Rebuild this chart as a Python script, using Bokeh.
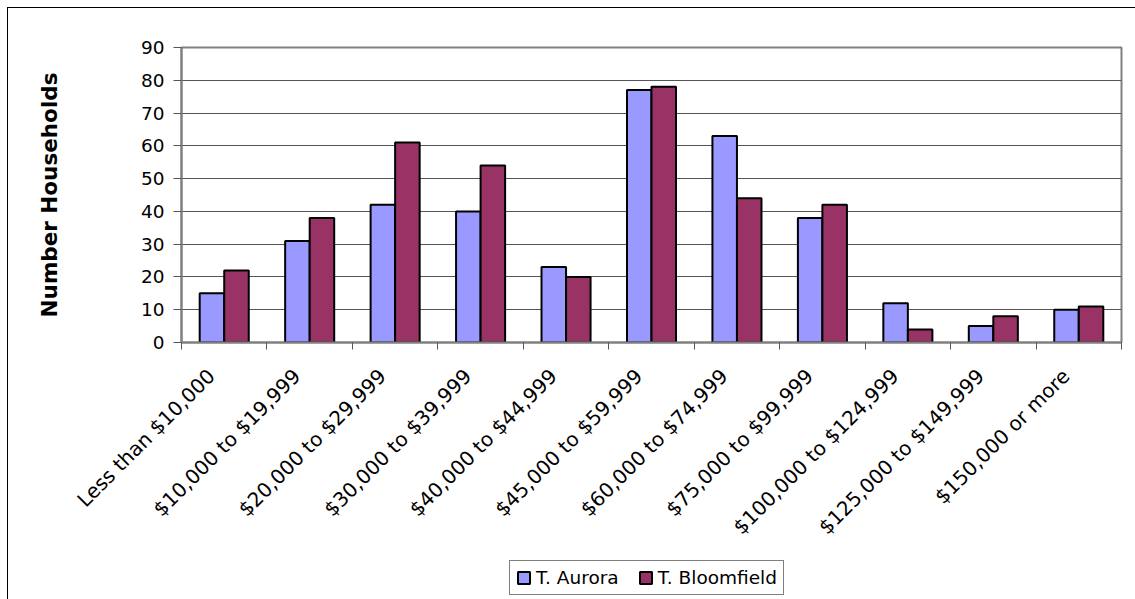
import math

from bokeh.embed import file_html
from bokeh.layouts import column
from bokeh.models import (ColumnDataSource, FixedTicker, Legend, LegendItem,
                          Range1d)
from bokeh.plotting import figure
from bokeh.resources import INLINE

# Household income brackets and household counts per town
categories = [
    "Less than $10,000", "$10,000 to $19,999", "$20,000 to $29,999",
    "$30,000 to $39,999", "$40,000 to $44,999", "$45,000 to $59,999",
    "$60,000 to $74,999", "$75,000 to $99,999", "$100,000 to $124,999",
    "$125,000 to $149,999", "$150,000 or more",
]
aurora = [15, 31, 42, 40, 23, 77, 63, 38, 12, 5, 10]
bloomfield = [22, 38, 61, 54, 20, 78, 44, 42, 4, 8, 11]
y_ticks = [0, 10, 20, 30, 40, 50, 60, 70, 80, 90]
series_names = ["T. Aurora", "T. Bloomfield"]
series_colors = ["#9999FF", "#993366"]

FONT = "DejaVu Sans"
BAR_W = 0.287          # bar width, in bracket units
LABEL_SHIFT = 0.15     # slanted labels sit slightly left of the bracket centre
WIDTH = 1128

centers = [i + 1 for i in range(len(categories))]
sources = [
    ColumnDataSource(dict(x=[c - BAR_W / 2 for c in centers], top=aurora)),
    ColumnDataSource(dict(x=[c + BAR_W / 2 for c in centers], top=bloomfield)),
]

p = figure(
    width=WIDTH, height=542,
    x_range=Range1d(0.5, len(categories) + 0.5),
    y_range=Range1d(0, 90),
    output_backend="svg", toolbar_location=None,
    min_border_left=173, min_border_right=15,
    min_border_top=39, min_border_bottom=208,
    background_fill_color="white", border_fill_color="white",
)

for src, color in zip(sources, series_colors):
    p.vbar(x="x", top="top", bottom=0, width=BAR_W, source=src,
           fill_color=color, line_color="black", line_width=2)

p.outline_line_color = "#808080"
p.outline_line_width = 2

# gridlines
p.xgrid.visible = False
p.ygrid.ticker = FixedTicker(ticks=y_ticks)
p.ygrid.grid_line_color = "#555555"
p.ygrid.grid_line_width = 1

# y axis
ya = p.yaxis[0]
ya.ticker = FixedTicker(ticks=y_ticks)
ya.axis_line_color = "#808080"
ya.axis_line_width = 2
ya.major_tick_line_color = "#555555"
ya.major_tick_out = 8
ya.major_tick_in = 0
ya.minor_tick_line_color = None
ya.major_label_text_font = FONT
ya.major_label_text_font_size = "18.5px"
ya.major_label_text_color = "black"
ya.major_label_standoff = 9
ya.axis_label = "Number Households"
ya.axis_label_text_font = FONT
ya.axis_label_text_font_style = "bold"
ya.axis_label_text_font_size = "21.5px"
ya.axis_label_text_color = "black"
ya.axis_label_standoff = 76

# x axis: slanted labels per bracket, tick marks between brackets
label_pos = [c - LABEL_SHIFT for c in centers]
xa = p.xaxis[0]
xa.ticker = FixedTicker(ticks=label_pos,
                        minor_ticks=[c - 0.5 for c in centers] + [centers[-1] + 0.5])
xa.major_label_overrides = {x: name for x, name in zip(label_pos, categories)}
xa.major_label_orientation = math.pi / 4
xa.major_label_text_font = FONT
xa.major_label_text_font_size = "20px"
xa.major_label_text_color = "black"
xa.major_label_standoff = 23
xa.major_tick_in = 0
xa.major_tick_out = 0
xa.minor_tick_in = 0
xa.minor_tick_out = 7
xa.minor_tick_line_color = "#555555"
xa.minor_tick_line_width = 1
xa.axis_line_color = "#808080"
xa.axis_line_width = 2

# legend strip under the chart; its swatches reuse the bar sources, hidden
lp = figure(
    width=WIDTH, height=49,
    x_range=Range1d(0, 1), y_range=Range1d(0, 1),
    x_axis_type=None, y_axis_type=None,
    output_backend="svg", toolbar_location=None,
    min_border=0, min_border_left=0, min_border_right=0,
    min_border_top=0, min_border_bottom=0,
    outline_line_color=None,
    background_fill_color="white", border_fill_color="white",
)
lp.xgrid.visible = False
lp.ygrid.visible = False
swatches = []
for src, color in zip(sources, series_colors):
    r = lp.vbar(x="x", top="top", bottom=0, width=BAR_W, source=src,
                fill_color=color, line_color="black", line_width=2)
    r.visible = False
    swatches.append(r)

legend = Legend(
    items=[LegendItem(label=name, renderers=[r])
           for name, r in zip(series_names, swatches)],
    orientation="horizontal",
    location=(328, 4),
    label_text_font=FONT, label_text_font_size="18.5px", label_text_color="black",
    glyph_width=15, glyph_height=15, label_standoff=5, spacing=19,
    padding=6, margin=0,
    border_line_color="black", border_line_width=1,
    background_fill_color="white", background_fill_alpha=1,
)
lp.add_layout(legend, "center")

page = column(p, lp, spacing=0)
# chart border on the left and top edges
page.margin = (7, 0, 0, 7)
page.styles = {"border-left": "1px solid black", "border-top": "1px solid black"}

open("out.html", "w").write(file_html(page, INLINE))
